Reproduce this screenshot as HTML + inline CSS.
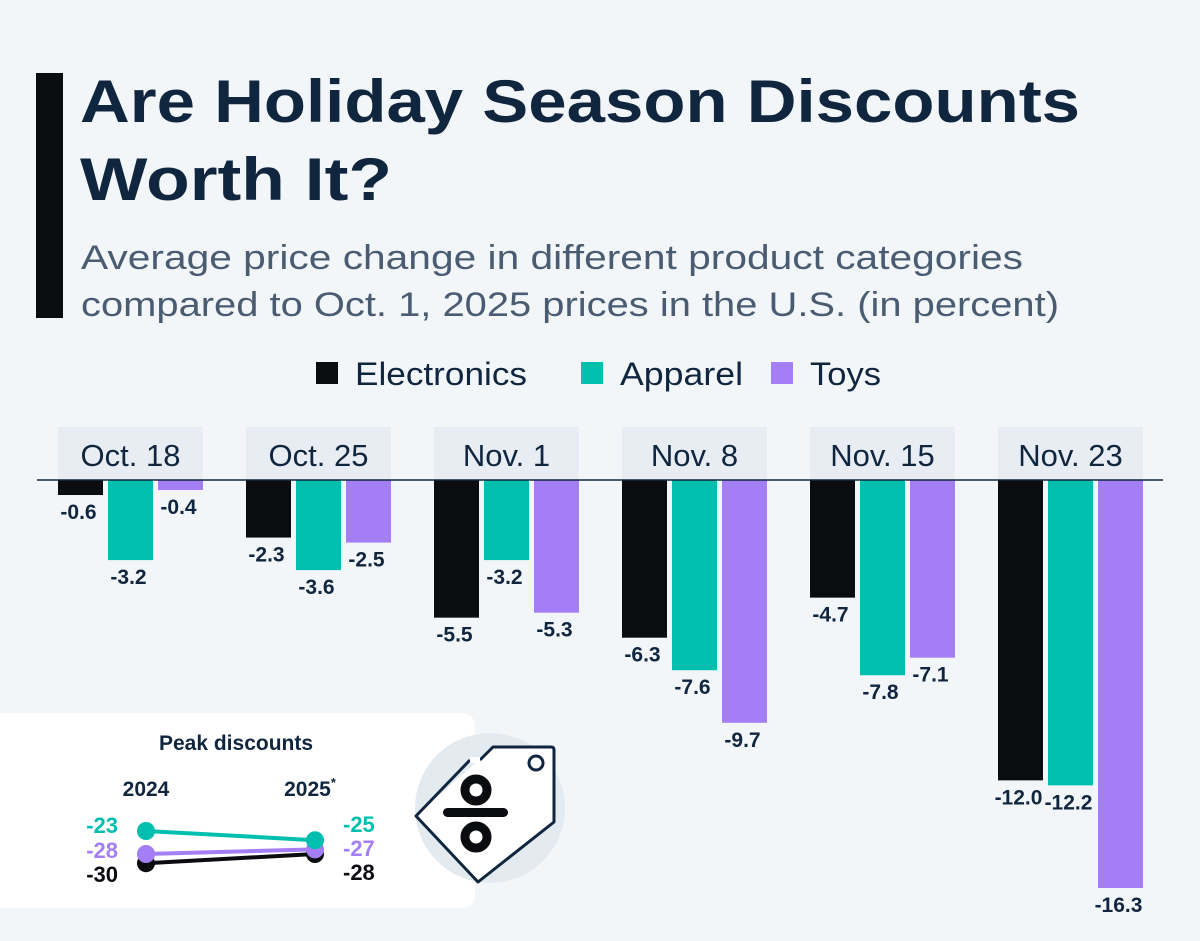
<!DOCTYPE html>
<html><head><meta charset="utf-8"><style>
html,body{margin:0;padding:0;background:#f3f6f9}
svg{display:block}
text{font-family:"Liberation Sans",sans-serif}
</style></head><body>
<svg id="chart" width="1200" height="941" viewBox="0 0 1200 941">
<rect x="0" y="0" width="1200" height="941" fill="#f3f6f9"/>
<rect x="36" y="73" width="27" height="245" fill="#0a0c10"/>
<text x="80" y="122" font-size="60" font-weight="bold" fill="#10263f" textLength="1000" lengthAdjust="spacingAndGlyphs">Are Holiday Season Discounts</text>
<text x="80" y="200" font-size="60" font-weight="bold" fill="#10263f" textLength="312" lengthAdjust="spacingAndGlyphs">Worth It?</text>
<text x="81" y="269" font-size="34" fill="#4a5c72" textLength="942" lengthAdjust="spacingAndGlyphs">Average price change in different product categories</text>
<text x="81" y="316" font-size="34" fill="#4a5c72" textLength="978" lengthAdjust="spacingAndGlyphs">compared to Oct. 1, 2025 prices in the U.S. (in percent)</text>
<g id="legend"></g>
<g id="cats"></g>
<g id="bars"></g>
<line x1="37" y1="480" x2="1163" y2="480" stroke="#10263f" stroke-width="1.5"/>
<g id="inset">
<path d="M0 713 H460 Q475 713 475 728 V893 Q475 908 460 908 H0 Z" fill="#ffffff"/>
<text x="236" y="750" font-size="21" font-weight="bold" fill="#10263f" text-anchor="middle">Peak discounts</text>
<text x="146" y="796" font-size="21" font-weight="bold" fill="#10263f" text-anchor="middle">2024</text>
<text x="310" y="796" font-size="21" font-weight="bold" fill="#10263f" text-anchor="middle">2025<tspan font-size="13" dy="-9">*</tspan></text>
<g id="slope"></g>
</g>
<g>
<circle cx="490" cy="808" r="75" fill="#e3eaf0"/>
<path d="M493 747 L551 747 Q554 747 554 750 L554 822 L478 882 L416 816 Z" fill="#ffffff" stroke="none"/>
<path d="M480 760 L493 747 L551 747 Q554 747 554 750 L554 822 L478 882 L416 816 L470 760" fill="none" stroke="#10263f" stroke-width="3" stroke-linejoin="round" stroke-dasharray="none"/>
<line x1="470" y1="760" x2="480" y2="760" stroke="#ffffff" stroke-width="6"/>
<circle cx="536" cy="763" r="7" fill="none" stroke="#10263f" stroke-width="3"/>
<rect x="443" y="808" width="65" height="9" rx="4.5" fill="#0a0c10"/>
<circle cx="476" cy="790" r="11" fill="none" stroke="#0a0c10" stroke-width="9"/>
<circle cx="476" cy="837" r="11" fill="none" stroke="#0a0c10" stroke-width="9"/>
</g>
</svg>
<script>
const categories = ["Oct. 18","Oct. 25","Nov. 1","Nov. 8","Nov. 15","Nov. 23"];
const seriesNames = ["Electronics","Apparel","Toys"];
const electronics = [-0.6,-2.3,-5.5,-6.3,-4.7,-12.0];
const apparel = [-3.2,-3.6,-3.2,-7.6,-7.8,-12.2];
const toys = [-0.4,-2.5,-5.3,-9.7,-7.1,-16.3];
const peakYears = ["2024","2025"];
const peakElectronics = [-30,-28];
const peakApparel = [-23,-25];
const peakToys = [-28,-27];

const colors = ["#0a0c10","#01bfae","#a37ef5"];
const NS = "http://www.w3.org/2000/svg";
function el(tag, attrs, parent, txt){const e=document.createElementNS(NS,tag);for(const k in attrs)e.setAttribute(k,attrs[k]);if(txt!==undefined)e.textContent=txt;parent.appendChild(e);return e;}
const y0 = 480, pxPerUnit = 25.03;
function yScale(v){return y0 - v*pxPerUnit;}
function groupX(i){return 58 + i*188;}
const barW = 45, barGap = 50;

// legend
const leg = document.getElementById('legend');
const legX = [316,581,771];
const legW = [172,123,71];
seriesNames.forEach((n,i)=>{
  const r = el('rect',{x:legX[i],y:362,width:22,height:22,fill:colors[i]},leg);
  
  
  const t = el('text',{x:legX[i]+39,y:385,'font-size':32,fill:'#10263f',textLength:legW[i],lengthAdjust:'spacingAndGlyphs'},leg,n);
  
  
});

// categories
const cats = document.getElementById('cats');
categories.forEach((c,i)=>{
  const r = el('rect',{x:groupX(i),y:427,width:145,height:53,fill:'#e8edf4'},cats);
  
  
  const t = el('text',{x:groupX(i)+72.5,y:466,'font-size':31,fill:'#10263f','text-anchor':'middle'},cats,c);
  
  
});

// bars
const bars = document.getElementById('bars');
[electronics,apparel,toys].forEach((series,s)=>{
  series.forEach((v,i)=>{
    const x = groupX(i)+s*barGap;
    const yb = yScale(v);
    const b = el('rect',{x:x,y:y0,width:barW,height:yb-y0,fill:colors[s]},bars);
    
    
    const t = el('text',{x:x+barW/2-2,y:yb+24,'font-size':21,'font-weight':'bold',fill:'#10263f','text-anchor':'middle'},bars,v.toFixed(1));
    
    
  });
});

// slope chart
const slope = document.getElementById('slope');
const sx = [146,315];
function sy(v){return 831 + (-23 - v)*4.6;}
[[peakElectronics,0],[peakToys,2],[peakApparel,1]].forEach(([vals,ci])=>{
  const l = el('line',{x1:sx[0],y1:sy(vals[0]),x2:sx[1],y2:sy(vals[1]),stroke:colors[ci],'stroke-width':4},slope);
  
  
  vals.forEach((v,j)=>{
    const c = el('circle',{cx:sx[j],cy:sy(v),r:9,fill:colors[ci]},slope);
    
    
  });
});
const labelYL = {0:[peakElectronics[0],882],1:[peakApparel[0],833],2:[peakToys[0],858]};
const labelYR = {0:[peakElectronics[1],880],1:[peakApparel[1],832],2:[peakToys[1],856]};
[0,1,2].forEach(ci=>{
  const lt = el('text',{x:118,y:labelYL[ci][1],'font-size':22,'font-weight':'bold',fill:ci==0?'#0a0c10':colors[ci],'text-anchor':'end'},slope,String(labelYL[ci][0]));
  
  
  const rt = el('text',{x:343,y:labelYR[ci][1],'font-size':22,'font-weight':'bold',fill:ci==0?'#0a0c10':colors[ci]},slope,String(labelYR[ci][0]));
  
  
});
</script>
</body></html>
